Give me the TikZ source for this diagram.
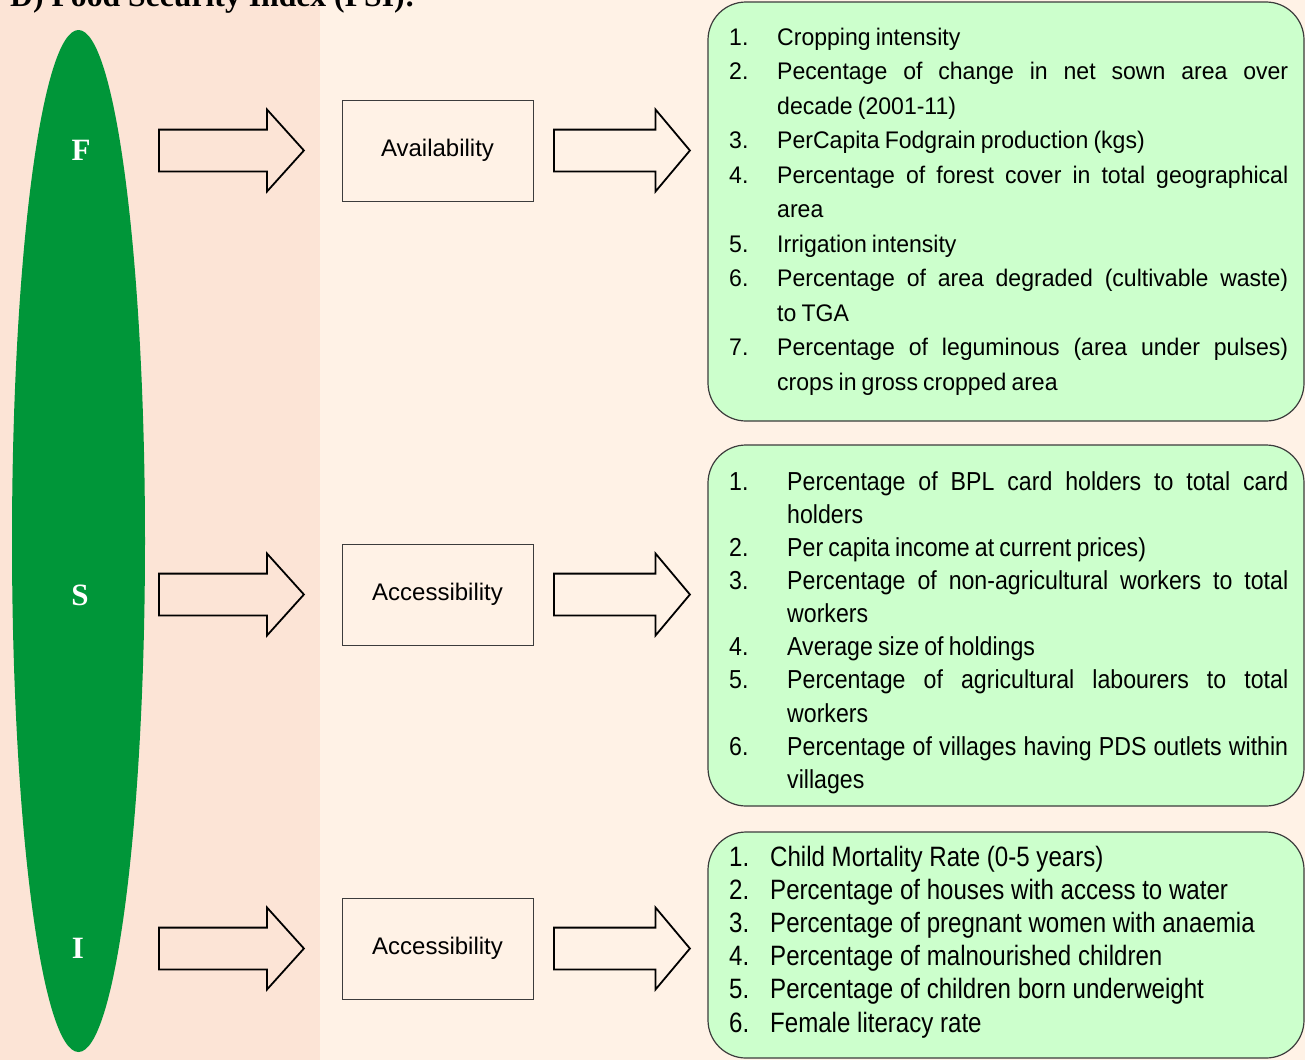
\documentclass[tikz,border=0pt]{standalone}
\usepackage{fontspec}
\setmainfont{Liberation Sans}
\newfontfamily\fontA[FakeStretch=0.96,WordSpace=0.8]{Liberation Sans}
\newfontfamily\fontB[FakeStretch=0.89,WordSpace=0.8]{Liberation Sans}
\newfontfamily\fontC[FakeStretch=0.86]{Liberation Sans}
\newfontfamily\serifB{Liberation Serif}
\usetikzlibrary{shapes.geometric,shapes.arrows}
\definecolor{leftbg}{RGB}{252,228,214}
\definecolor{rightbg}{RGB}{255,242,230}
\definecolor{fsigreen}{RGB}{0,150,57}
\definecolor{listgreen}{RGB}{204,255,204}
\definecolor{boxline}{RGB}{60,60,60}
\newdimen\numw
\newcommand\li[2]{\hbox to\hsize{\hbox to\numw{#1\hfil}#2\hfil}}
\newcommand\lj[2]{\hbox to\hsize{\hbox to\numw{#1\hfil}#2}}
\newcommand\lc[1]{\hbox to\hsize{\hskip\numw #1\hfil}}
\hbadness=10000
\tikzset{
  blockarrow/.style={single arrow, draw=black, line width=1.8pt, inner xsep=0pt, inner ysep=20pt, single arrow head extend=20pt, anchor=tail},
  catbox/.style={draw=boxline, line width=1pt, minimum width=191pt, minimum height=101pt, inner sep=0pt, font=\fontsize{24}{29}\selectfont},
  listbox/.style={draw=boxline, line width=1.2pt, fill=listgreen, rounded corners=38pt, minimum width=596pt, inner sep=0pt},
  letter/.style={text=white, inner sep=0pt, font=\serifB\bfseries\fontsize{31}{31}\selectfont},
  listtext/.style={anchor=base west, inner sep=0pt}
}
\begin{document}
\begin{tikzpicture}[x=1pt,y=-1pt]
\useasboundingbox (0,0) rectangle (1305,1060);
\clip (0,0) rectangle (1305,1060);
\fill[leftbg] (0,0) rectangle (320,1060);
\fill[rightbg] (320,0) rectangle (1305,1060);
% title (cut off at the top edge, as in the reference)
\node[anchor=base west, inner sep=0pt, font=\serifB\bfseries\fontsize{31.7}{32}\selectfont] (title) at (10,6) {D) Food Security Index (FSI):};
% ellipse
\node[ellipse, fill=fsigreen, minimum width=133pt, minimum height=1022pt, inner sep=0pt] (ell) at (78.5,541) {};
\node[letter] (F) at (81,150) {F};
\node[letter] (S) at (80,595) {S};
\node[letter] (I) at (78,948) {I};
% left arrows
\node[blockarrow, minimum height=145pt, single arrow tip angle=96] (la1) at (158,150.5) {};
\node[blockarrow, minimum height=145pt, single arrow tip angle=96] (la2) at (158,594.5) {};
\node[blockarrow, minimum height=145pt, single arrow tip angle=96] (la3) at (158,948.5) {};
% category boxes
\node[catbox] (av) at (437.5,150.5) {Availability};
\node[catbox] (ac) at (437.5,594.5) {Accessibility};
\node[catbox] (ab) at (437.5,948.5) {Accessibility};
% right arrows
\node[blockarrow, minimum height=136pt, single arrow tip angle=100] (ra1) at (553,150.5) {};
\node[blockarrow, minimum height=136pt, single arrow tip angle=100] (ra2) at (553,594.5) {};
\node[blockarrow, minimum height=136pt, single arrow tip angle=100] (ra3) at (553,948.5) {};
% list boxes
\node[listbox, minimum height=419pt] (L1) at (1006,211.5) {};
\node[listbox, minimum height=361pt] (L2) at (1006,625.5) {};
\node[listbox, minimum height=226pt] (L3) at (1006,945) {};
% list 1
\node[listtext] (T1) at (729,45) {\fontA\fontsize{24}{34.5}\selectfont\vtop{\hsize=559pt\numw=48pt\baselineskip=34.5pt\lineskiplimit=-100pt
\li{1.}{Cropping intensity}
\lj{2.}{Pecentage of change in net sown area over}
\lc{decade (2001-11)}
\li{3.}{PerCapita Fodgrain production (kgs)}
\lj{4.}{Percentage of forest cover in total geographical}
\lc{area}
\li{5.}{Irrigation intensity}
\lj{6.}{Percentage of area degraded (cultivable waste)}
\lc{to TGA}
\lj{7.}{Percentage of leguminous (area under pulses)}
\lc{crops in gross cropped area}}};
% list 2
\node[listtext] (T2) at (729,490) {\fontB\fontsize{26}{33.15}\selectfont\vtop{\hsize=559pt\numw=58pt\baselineskip=33.15pt\lineskiplimit=-100pt
\lj{1.}{Percentage of BPL card holders to total card}
\lc{holders}
\li{2.}{Per capita income at current prices)}
\lj{3.}{Percentage of non-agricultural workers to total}
\lc{workers}
\li{4.}{Average size of holdings}
\lj{5.}{Percentage of agricultural labourers to total}
\lc{workers}
\lj{6.}{Percentage of villages having PDS outlets within}
\lc{villages}}};
% list 3
\node[listtext] (T3) at (729,866) {\fontC\fontsize{28}{33.2}\selectfont\vtop{\hsize=559pt\numw=41pt\baselineskip=33.2pt\lineskiplimit=-100pt
\li{1.}{Child Mortality Rate (0-5 years)}
\li{2.}{Percentage of houses with access to water}
\li{3.}{Percentage of pregnant women with anaemia}
\li{4.}{Percentage of malnourished children}
\li{5.}{Percentage of children born underweight}
\li{6.}{Female literacy rate}}};
\end{tikzpicture}
\end{document}
